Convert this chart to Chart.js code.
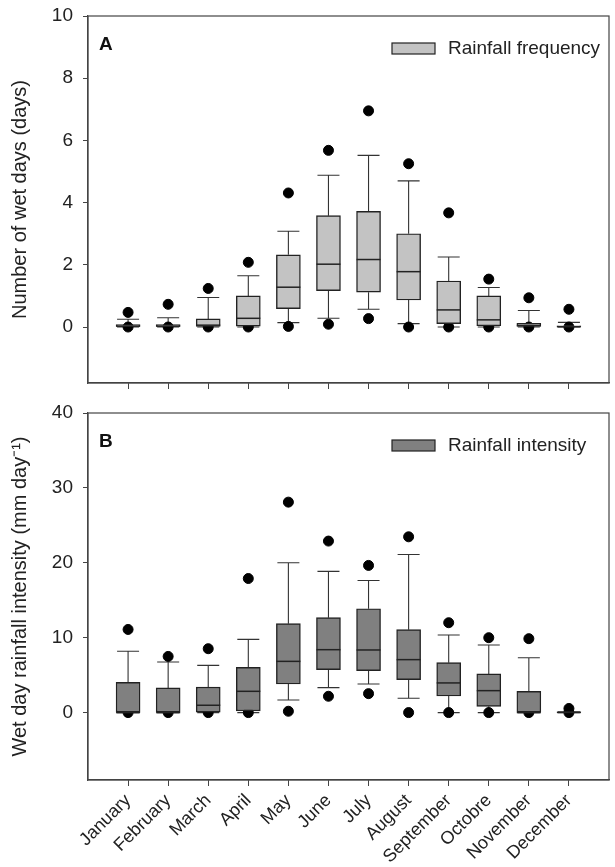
<!DOCTYPE html>
<html>
<head>
<meta charset="utf-8">
<script src="https://cdn.jsdelivr.net/npm/chart.js@4/dist/chart.umd.min.js"></script>
<style>
body { margin: 0; background: #fff; }
canvas { position: absolute; left: 0; }
#chartA { top: 0; }
#chartB { top: 400px; }
</style>
</head>
<body>
<canvas id="chartA" width="615" height="400"></canvas>
<canvas id="chartB" width="615" height="467"></canvas>
<script>
// months on the x axis
let months = ['January', 'February', 'March', 'April', 'May', 'June', 'July', 'August', 'September', 'Octobre', 'November', 'December'];

// A - rainfall frequency (days)
let freqLow     = [0, 0, 0, 0, 0.14, 0.28, 0.57, 0.11, 0, 0, 0, 0];
let freqQ1      = [0, 0, 0, 0.03, 0.59, 1.17, 1.12, 0.87, 0.11, 0.04, 0, 0];
let freqMed     = [0.03, 0.03, 0.06, 0.28, 1.28, 2.02, 2.17, 1.78, 0.55, 0.23, 0.05, 0.01];
let freqQ3      = [0.08, 0.08, 0.26, 1.0, 2.32, 3.58, 3.72, 3.0, 1.48, 1.0, 0.12, 0.04];
let freqHigh    = [0.25, 0.3, 0.95, 1.65, 3.08, 4.88, 5.52, 4.7, 2.25, 1.27, 0.53, 0.15];
let freqOutHigh = [0.47, 0.73, 1.24, 2.08, 4.31, 5.68, 6.95, 5.25, 3.67, 1.54, 0.94, 0.57];
let freqOutLow  = [0, 0, 0, 0, 0.02, 0.09, 0.27, 0, 0, 0, 0, 0];
let freqTicks   = [0, 2, 4, 6, 8, 10];

// B - rainfall intensity (mm/day)
let intLow     = [0, 0, 0, 0, 1.69, 3.33, 3.82, 1.91, 0, 0, 0, 0];
let intQ1      = [0, 0, 0, 0.22, 3.82, 5.73, 5.6, 4.4, 2.22, 0.84, 0, 0];
let intMed     = [0, 0, 0.98, 2.84, 6.84, 8.4, 8.36, 7.07, 3.96, 2.93, 0, 0.02];
let intQ3      = [4.04, 3.3, 3.4, 6.04, 11.87, 12.67, 13.87, 11.07, 6.67, 5.16, 2.84, 0.1];
let intHigh    = [8.2, 6.75, 6.3, 9.78, 20.0, 18.85, 17.64, 21.1, 10.36, 9.02, 7.33, 0.12];
let intOutHigh = [11.1, 7.5, 8.53, 17.9, 28.1, 22.9, 19.65, 23.47, 12.0, 10.0, 9.87, 0.55];
let intOutLow  = [0, 0, 0, 0, 0.18, 2.18, 2.53, 0, 0, 0, 0, 0];
let intTicks   = [0, 10, 20, 30, 40];

const FONT = "'Liberation Sans', Arial, sans-serif";
const INK = '#222';
const FRAME = '#444';

function boxExtras(s) {
    return {
        id: 'boxExtras',
        beforeDatasetsDraw(chart) {
            // whiskers + caps
            let ctx = chart.ctx, xs = chart.scales.x, ys = chart.scales.y;
            ctx.save();
            ctx.strokeStyle = '#333';
            ctx.lineWidth = 1.1;
            for (let i = 0; i < months.length; i++) {
                let x = xs.getPixelForValue(i);
                let lo = ys.getPixelForValue(s.low[i]), hi = ys.getPixelForValue(s.high[i]);
                ctx.beginPath();
                ctx.moveTo(x, ys.getPixelForValue(s.q3[i])); ctx.lineTo(x, hi);
                ctx.moveTo(x, ys.getPixelForValue(s.q1[i])); ctx.lineTo(x, lo);
                ctx.moveTo(x - 11, hi); ctx.lineTo(x + 11, hi);
                ctx.moveTo(x - 11, lo); ctx.lineTo(x + 11, lo);
                ctx.stroke();
            }
            ctx.restore();
        },
        afterDatasetDraw(chart, args) {
            if (args.index !== 0) return;
            // median lines on top of the boxes
            let ctx = chart.ctx, xs = chart.scales.x, ys = chart.scales.y;
            ctx.save();
            ctx.strokeStyle = INK;
            ctx.lineWidth = 1.5;
            for (let i = 0; i < months.length; i++) {
                let x = xs.getPixelForValue(i), y = ys.getPixelForValue(s.med[i]);
                ctx.beginPath();
                ctx.moveTo(x - 12, y); ctx.lineTo(x + 12, y);
                ctx.stroke();
            }
            ctx.restore();
        },
        afterDraw(chart) {
            let ctx = chart.ctx, a = chart.chartArea;
            ctx.save();
            // frame
            ctx.strokeStyle = FRAME;
            ctx.lineWidth = 1.2;
            ctx.strokeRect(a.left, a.top, a.right - a.left, a.bottom - a.top);
            // panel letter
            ctx.fillStyle = '#111';
            ctx.font = 'bold 19px ' + FONT;
            ctx.textBaseline = 'middle';
            ctx.fillText(s.letter, a.left + 11, a.top + 29);
            // legend
            ctx.fillStyle = s.fill;
            ctx.strokeStyle = INK;
            ctx.lineWidth = 1.2;
            ctx.fillRect(392, a.top + 27, 43, 11);
            ctx.strokeRect(392, a.top + 27, 43, 11);
            ctx.fillStyle = INK;
            ctx.font = '19px ' + FONT;
            ctx.fillText(s.legend, 448, a.top + 33);
            ctx.restore();
        }
    };
}

function makeChart(id, s) {
    let boxes = [], highDots = [], lowDots = [];
    for (let i = 0; i < months.length; i++) {
        boxes.push({ x: i, y: [s.q1[i], s.q3[i]] });
        highDots.push({ x: i, y: s.outHigh[i] });
        lowDots.push({ x: i, y: s.outLow[i] });
    }
    new Chart(document.getElementById(id), {
        type: 'bar',
        data: {
            datasets: [
                { type: 'bar', label: s.legend, data: boxes, backgroundColor: s.fill, borderColor: INK,
                  borderWidth: 1.4, borderSkipped: false, barThickness: 24 },
                { type: 'scatter', data: highDots, backgroundColor: '#000', borderColor: '#000', pointRadius: 5 },
                { type: 'scatter', data: lowDots, backgroundColor: '#000', borderColor: '#000', pointRadius: 5 }
            ]
        },
        options: {
            responsive: false,
            animation: false,
            layout: { padding: { top: s.padTop, right: 4, left: 0, bottom: 0 } },
            plugins: { legend: { display: false }, tooltip: { enabled: false } },
            scales: {
                x: {
                    type: 'linear', min: -1, max: 12, offset: false,
                    afterBuildTicks: (sc) => { sc.ticks = months.map((m, i) => ({ value: i })); },
                    afterFit: (sc) => { sc.height = s.xHeight; sc.paddingLeft = 0; sc.paddingRight = 0; },
                    grid: { drawOnChartArea: false, offset: false, tickLength: 6, color: FRAME },
                    border: { color: FRAME, width: 1.2 },
                    ticks: {
                        display: s.showMonths, autoSkip: false, maxRotation: 45, minRotation: 45, padding: 4,
                        color: INK, font: { family: FONT, size: 18 },
                        callback: (v, i) => months[i]
                    }
                },
                y: {
                    min: s.yMin, max: s.yMax,
                    afterBuildTicks: (sc) => { sc.ticks = s.ticks.map(v => ({ value: v })); },
                    afterFit: (sc) => { sc.width = 88; sc.paddingTop = 0; sc.paddingBottom = 0; },
                    grid: { drawOnChartArea: false, tickLength: 5, color: FRAME },
                    border: { color: FRAME, width: 1.2 },
                    ticks: { padding: 10, color: INK, font: { family: FONT, size: 19 } },
                    title: { display: true, text: s.title, color: INK, font: { family: FONT, size: 20 },
                             padding: { top: 8, bottom: 0 } }
                }
            }
        },
        plugins: [boxExtras(s)]
    });
}

makeChart('chartA', {
    low: freqLow, q1: freqQ1, med: freqMed, q3: freqQ3, high: freqHigh,
    outHigh: freqOutHigh, outLow: freqOutLow, ticks: freqTicks,
    yMin: -1.8, yMax: 10, padTop: 16, xHeight: 17, showMonths: false,
    fill: '#c3c3c3', legend: 'Rainfall frequency', letter: 'A',
    title: 'Number of wet days (days)'
});

makeChart('chartB', {
    low: intLow, q1: intQ1, med: intMed, q3: intQ3, high: intHigh,
    outHigh: intOutHigh, outLow: intOutLow, ticks: intTicks,
    yMin: -9, yMax: 40, padTop: 13, xHeight: 87, showMonths: true,
    fill: '#808080', legend: 'Rainfall intensity', letter: 'B',
    title: 'Wet day rainfall intensity (mm day\u207B\u00B9)'
});
</script>
</body>
</html>
